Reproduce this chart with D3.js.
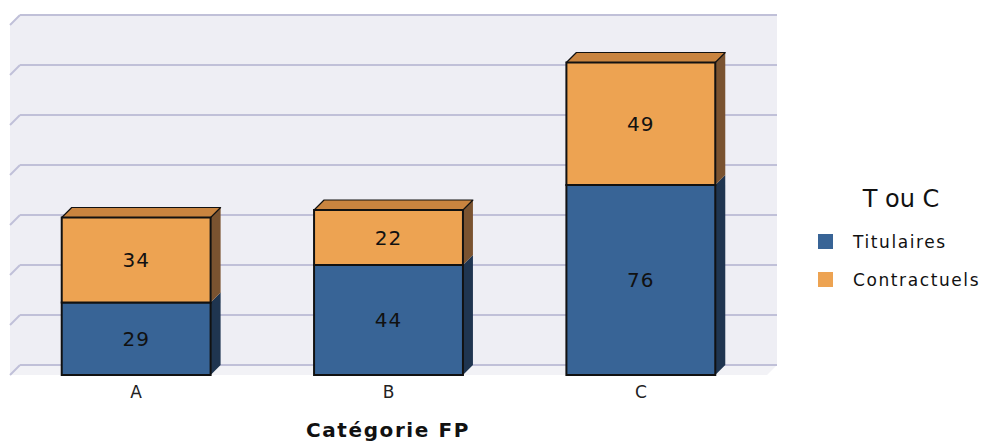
<!DOCTYPE html>
<html><head><meta charset="utf-8">
<script src="https://cdn.jsdelivr.net/npm/d3@7/dist/d3.min.js"></script>
<style>body{margin:0;background:#fff}svg{display:block}</style>
</head><body>
<svg id="chart" width="985" height="443"></svg>
<script>
const categories = ["A", "B", "C"];
const titulaires = [29, 44, 76];
const contractuels = [34, 22, 49];
const seriesNames = ["Titulaires", "Contractuels"];
const yTicks = [0, 20, 40, 60, 80, 100, 120, 140];
const xTitle = "Catégorie FP";
const legendTitle = "T ou C";

(function () {
const svg = d3.select("#chart");
const D = 10; // depth offset
const pLeft = 10, pRight = 767, pBottom = 375, pTop = 25;
const x = d3.scaleBand().domain(categories).range([pLeft, pRight]).paddingInner(0.41).paddingOuter(0.205);
const y = d3.scaleLinear().domain([0, 140]).range([pBottom, pTop]);
const colors = {front: ["#386496", "#eda352"], side: ["#1f3550", "#7a5330"], top: ["#2c5080", "#c9843f"]};
const wallFill = "#eeeef4", gridC = "#c0c0d8";

const y0 = y(0), yMax = y(140);
svg.append("polygon").attr("points", [[pLeft+D, yMax-D],[pRight+D, yMax-D],[pRight+D, y0-D],[pLeft+D, y0-D]].join(" ")).attr("fill", wallFill);
svg.append("polygon").attr("points", [[pLeft, yMax],[pLeft+D, yMax-D],[pLeft+D, y0-D],[pLeft, y0]].join(" ")).attr("fill", wallFill);
svg.append("polygon").attr("points", [[pLeft, y0],[pLeft+D, y0-D],[pRight+D, y0-D],[pRight, y0]].join(" ")).attr("fill", "#f2f2f6");
const g = svg.append("g");
yTicks.forEach(t => {
  g.append("line").attr("x1", pLeft+D).attr("x2", pRight+D).attr("y1", y(t)-D).attr("y2", y(t)-D)
    .attr("stroke", gridC).attr("stroke-width", 2);
  g.append("line").attr("x1", pLeft).attr("x2", pLeft+D).attr("y1", y(t)).attr("y2", y(t)-D)
    .attr("stroke", gridC).attr("stroke-width", 2);
});

const stackData = categories.map((c, i) => ({cat: c, Titulaires: titulaires[i], Contractuels: contractuels[i]}));
const stacked = d3.stack().keys(seriesNames)(stackData);

const bars = svg.append("g");
categories.forEach((c, i) => {
  const x0 = x(c), x1 = x(c) + x.bandwidth();
  stacked.forEach((s, k) => {
    const a = y(s[i][0]), b = y(s[i][1]);
    bars.append("polygon").attr("points", [[x1, a],[x1+D, a-D],[x1+D, b-D],[x1, b]].join(" "))
      .attr("fill", colors.side[k]);
  });
  const topS = stacked[stacked.length-1][i];
  const tb = y(topS[1]);
  bars.append("polygon").attr("points", [[x0, tb],[x0+D, tb-D],[x1+D, tb-D],[x1, tb]].join(" "))
    .attr("fill", colors.top[1]).attr("stroke", "#111").attr("stroke-width", 1.2).attr("stroke-linejoin", "round");
  stacked.forEach((s, k) => {
    const a = y(s[i][0]), b = y(s[i][1]);
    bars.append("rect").attr("x", x0).attr("y", b).attr("width", x.bandwidth()).attr("height", a-b)
      .attr("fill", colors.front[k]).attr("stroke", "#111").attr("stroke-width", 2);
    bars.append("text").attr("x", (x0+x1)/2).attr("y", (a+b)/2).attr("dy", "0.36em")
      .attr("text-anchor", "middle").attr("font-family", "DejaVu Sans").attr("font-size", 20)
      .attr("letter-spacing", 1).attr("fill", "#111").text(s[i][1]-s[i][0]);
  });
});

categories.forEach(c => {
  svg.append("text").attr("x", x(c)+x.bandwidth()/2).attr("y", 398).attr("text-anchor", "middle")
    .attr("font-family", "DejaVu Sans").attr("font-size", 17).attr("fill", "#222").text(c);
});
svg.append("text").attr("x", 388).attr("y", 437).attr("text-anchor", "middle")
  .attr("font-family", "DejaVu Sans").attr("font-weight", "bold").attr("font-size", 20)
  .attr("letter-spacing", 1.6).attr("fill", "#111").text(xTitle);

svg.append("text").attr("x", 901).attr("y", 207).attr("text-anchor", "middle")
  .attr("font-family", "DejaVu Sans").attr("font-size", 24).attr("fill", "#111").text(legendTitle);
seriesNames.forEach((n, k) => {
  const ly = 234 + k*38;
  svg.append("rect").attr("x", 818).attr("y", ly).attr("width", 15).attr("height", 15).attr("fill", colors.front[k]);
  svg.append("text").attr("x", 853).attr("y", ly+14).attr("font-family", "DejaVu Sans").attr("font-size", 17)
    .attr("letter-spacing", 1.6).attr("fill", "#111").text(n);
});
})();
</script>
</body></html>
